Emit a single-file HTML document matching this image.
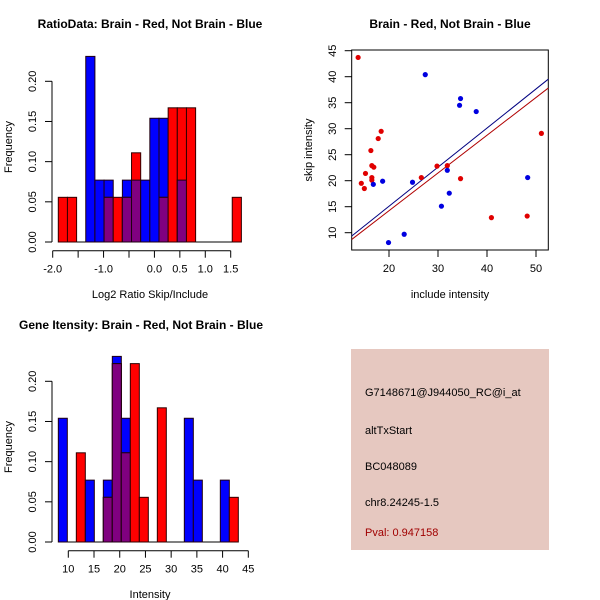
<!DOCTYPE html>
<html><head><meta charset="utf-8"><style>
body{margin:0;background:#fff}
svg{display:block;font-family:"Liberation Sans",Arial,sans-serif}
</style></head><body>
<svg id="c" width="600" height="600" xmlns="http://www.w3.org/2000/svg">
<rect width="600" height="600" fill="#fff"/>
<g>
<text x="150" y="28" text-anchor="middle" font-size="12" font-weight="bold">RatioData: Brain - Red, Not Brain - Blue</text>
<text x="150" y="298" text-anchor="middle" font-size="11">Log2 Ratio Skip/Include</text>
<text transform="translate(12,147) rotate(-90)" text-anchor="middle" font-size="11">Frequency</text>
<g id="h1"></g>
</g>
<g>
<text x="450" y="28" text-anchor="middle" font-size="12" font-weight="bold">Brain - Red, Not Brain - Blue</text>
<text x="450" y="298" text-anchor="middle" font-size="11">include intensity</text>
<text transform="translate(312,150) rotate(-90)" text-anchor="middle" font-size="11">skip intensity</text>
<g id="sc"></g>
</g>
<g>
<text x="141" y="329" text-anchor="middle" font-size="12" font-weight="bold">Gene Itensity: Brain - Red, Not Brain - Blue</text>
<text x="150" y="598" text-anchor="middle" font-size="11">Intensity</text>
<text transform="translate(12,447) rotate(-90)" text-anchor="middle" font-size="11">Frequency</text>
<g id="h2"></g>
</g>
<g>
<rect x="351" y="349" width="198" height="201" fill="#e6c8c0"/>
<text x="365" y="396" font-size="11">G7148671@J944050_RC@i_at</text>
<text x="365" y="434" font-size="11">altTxStart</text>
<text x="365" y="470" font-size="11">BC048089</text>
<text x="365" y="506" font-size="11">chr8.24245-1.5</text>
<text x="365" y="536" font-size="11" fill="#a00000">Pval: 0.947158</text>
</g>
</svg>
<script>
// Ratio histogram data (20 bins)
const ratioBinStart = -1.89;
const ratioBinWidth = 0.18;
const ratioRed = [0.0556,0.0556,0,0,0,0.0556,0.0556,0.0556,0.111,0,0,0.0556,0.167,0.167,0.167,0,0,0,0,0.0556];
const ratioBlue = [0,0,0,0.231,0.077,0.077,0,0.077,0.077,0.077,0.154,0.154,0,0.077,0,0,0,0,0,0];
const ratioXTicks = [-2,-1.5,-1,-0.5,0,0.5,1,1.5];
const ratioXLabels = ["-2.0","","-1.0","","0.0","0.5","1.0","1.5"];
const freqTicks = [0,0.05,0.10,0.15,0.20];
const freqLabels = ["0.00","0.05","0.10","0.15","0.20"];
// Intensity histogram data
const intBinStart = 8.06;
const intBinWidth = 1.75;
const intRed = [0,0,0.111,0,0,0.0556,0.222,0.111,0.222,0.0556,0,0.167,0,0,0,0,0,0,0,0.0556];
const intBlue = [0.154,0,0,0.077,0,0.077,0.231,0.154,0,0,0,0,0,0,0.154,0.077,0,0,0.077,0];
const intXTicks = [10,15,20,25,30,35,40,45];
// Scatter data
const redX = [13.7,14.35,14.97,15.2,16.3,16.5,16.9,16.5,16.5,17.8,18.4,26.6,29.8,31.9,34.6,40.9,48.2,51.1];
const redY = [43.7,19.5,18.5,21.4,25.8,22.9,22.6,20.6,20.1,28.1,29.5,20.6,22.8,22.9,20.4,12.9,13.2,29.1];
const blueX = [16.8,18.7,19.9,23.1,24.8,27.4,30.7,31.9,32.3,34.4,34.6,37.8,48.3];
const blueY = [19.3,19.9,8.1,9.7,19.7,40.4,15.1,22.0,17.6,34.5,35.8,33.3,20.6];
const fitBlue = [0.04,0.752]; // intercept, slope
const fitRed = [-0.3,0.726];
const scXTicks = [20,30,40,50];
const scYTicks = [10,15,20,25,30,35,40,45];

const NS="http://www.w3.org/2000/svg";
function mk(parent,tag,attrs){const e=document.createElementNS(NS,tag);for(const k in attrs)e.setAttribute(k,attrs[k]);parent.appendChild(e);return e;}

function hist(g,y0,xs,ys,binStart,binW,red,blue,xTicks,xLabels,axisLeft,axisRight){
  const yPix=v=>y0-v*(160.7/0.2);
  // baseline
  const bl=mk(g,'line',{x1:xs(binStart),x2:xs(binStart+binW*red.length),y1:y0,y2:y0,stroke:'#000'});
  
  
  for(let i=0;i<red.length;i++){
    const x=xs(binStart+i*binW), w=xs(binStart+(i+1)*binW)-x;
    const r=red[i], b=blue[i], m=Math.min(r,b);
    if(b>0){const e=mk(g,'rect',{x:x,y:yPix(b),width:w,height:y0-yPix(b),fill:'#0000ff',stroke:'#200010','stroke-width':1});
      
      }
    if(r>0){const e=mk(g,'rect',{x:x,y:yPix(r),width:w,height:y0-yPix(r),fill:'#ff0000',stroke:'#300000','stroke-width':1});
      
      }
    if(m>0){const e=mk(g,'rect',{x:x,y:yPix(m),width:w,height:y0-yPix(m),fill:'#800080',stroke:'#200010','stroke-width':1});
      
      }
  }
  // y axis
  const ya=mk(g,'line',{x1:52,x2:52,y1:yPix(0),y2:yPix(0.2),stroke:'#000'});
  
  
  freqTicks.forEach((t,i)=>{
    mk(g,'line',{x1:45,x2:52,y1:yPix(t),y2:yPix(t),stroke:'#000'});
    const tx=mk(g,'text',{transform:`translate(36,${yPix(t)}) rotate(-90)`,'text-anchor':'middle','font-size':11});
    tx.textContent=freqLabels[i];
    
    
  });
  const ay=y0+8.7;
  const xa=mk(g,'line',{x1:xs(xTicks[0]),x2:xs(xTicks[xTicks.length-1]),y1:ay,y2:ay,stroke:'#000'});
  
  
  xTicks.forEach((t,i)=>{
    mk(g,'line',{x1:xs(t),x2:xs(t),y1:ay,y2:ay+7,stroke:'#000'});
    if(xLabels[i]){const tx=mk(g,'text',{x:xs(t),y:ay+22,'text-anchor':'middle','font-size':11});
      tx.textContent=xLabels[i];
      
      }
  });
}
const xs1=v=>52.7+(v+2)*50.86;
hist(document.getElementById('h1'),242,xs1,null,ratioBinStart,ratioBinWidth,ratioRed,ratioBlue,ratioXTicks,ratioXLabels);
const xs2=v=>68.3+(v-10)*5.143;
hist(document.getElementById('h2'),542,xs2,null,intBinStart,intBinWidth,intRed,intBlue,intXTicks,intXTicks.map(String));

// scatter
const sg=document.getElementById('sc');
const sx=v=>389+(v-20)*4.9, sy=v=>232.7-(v-10)*5.2;
const box=mk(sg,'rect',{x:351.7,y:50,width:196.6,height:200,fill:'none',stroke:'#000'});


const xmin=12.4,xmax=52.5;
[[fitBlue,'#000080','fit-line-blue'],[fitRed,'#b00000','fit-line-red']].forEach(([f,c,n])=>{
  const l=mk(sg,'line',{x1:sx(xmin),y1:sy(f[0]+f[1]*xmin),x2:sx(xmax),y2:sy(f[0]+f[1]*xmax),stroke:c,'stroke-width':1});
  
  
});
redX.forEach((x,i)=>{const p=mk(sg,'circle',{cx:sx(x),cy:sy(redY[i]),r:2.6,fill:'#e00000'});
  
  });
blueX.forEach((x,i)=>{const p=mk(sg,'circle',{cx:sx(x),cy:sy(blueY[i]),r:2.6,fill:'#0000e0'});
  
  });
scXTicks.forEach(t=>{mk(sg,'line',{x1:sx(t),x2:sx(t),y1:250,y2:257,stroke:'#000'});
  const tx=mk(sg,'text',{x:sx(t),y:272,'text-anchor':'middle','font-size':11});tx.textContent=t;
  
  });
scYTicks.forEach(t=>{mk(sg,'line',{x1:344.7,x2:351.7,y1:sy(t),y2:sy(t),stroke:'#000'});
  const tx=mk(sg,'text',{transform:`translate(336,${sy(t)}) rotate(-90)`,'text-anchor':'middle','font-size':11});tx.textContent=t;
  
  });
</script>
</body></html>
